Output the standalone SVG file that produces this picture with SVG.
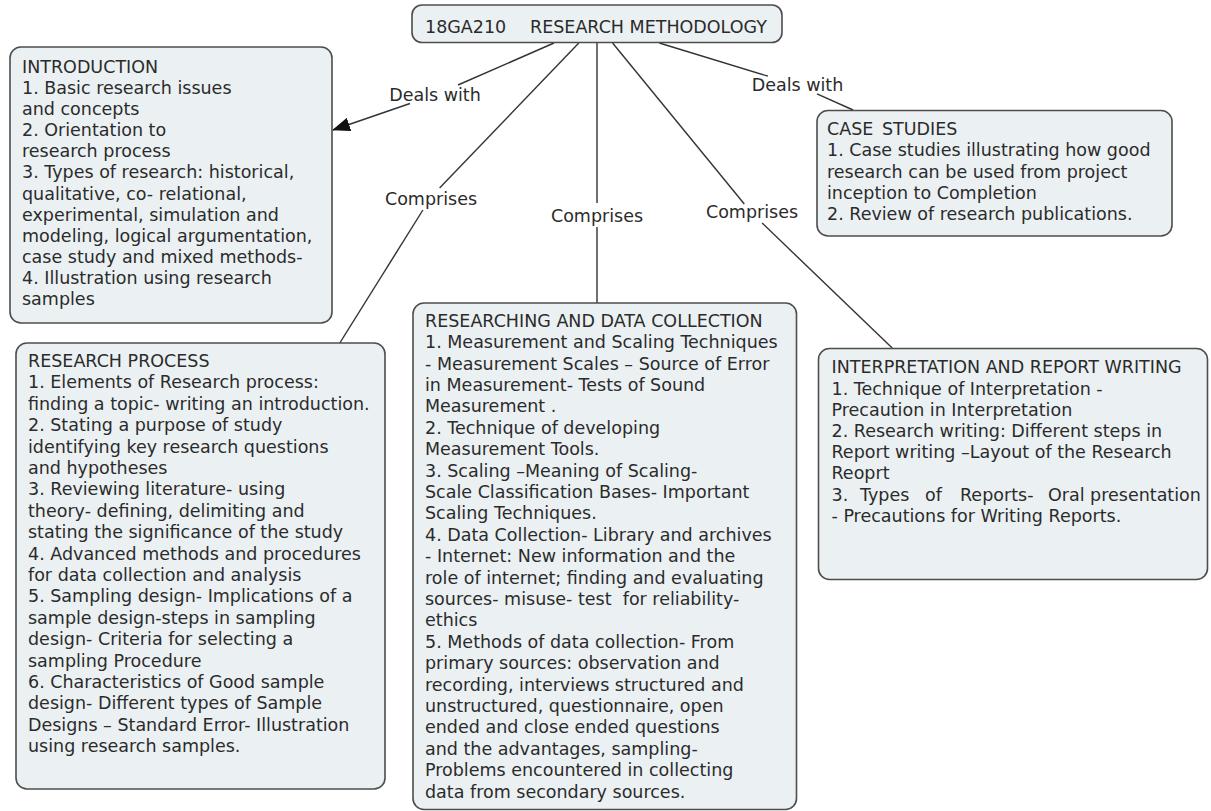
<svg xmlns="http://www.w3.org/2000/svg" width="1211" height="811" viewBox="0 0 1211 811">
<style>
.box{fill:#ebf1f3;stroke:#4d4d4d;stroke-width:1.6}
text{font-family:"DejaVu Sans","Verdana",sans-serif;font-size:17.5px;fill:#2b2b2b;white-space:pre}
.lbl{text-anchor:middle}
.con{stroke:#333;stroke-width:1.4;fill:none}
</style>
<defs>
<marker id="arr" markerUnits="userSpaceOnUse" markerWidth="18" markerHeight="14" viewBox="0 0 18 14" refX="17" refY="7" orient="auto">
<path d="M0,0 L18,7 L0,14 z" fill="#111"/>
</marker>
</defs>
<rect width="1211" height="811" fill="#fff"/>
<g id="connectors">
<path class="con" d="M554,43 L458,85"/>
<path class="con" d="M410,103.5 L333,130" marker-end="url(#arr)"/>
<path class="con" d="M578.8,43 L439.6,188"/>
<path class="con" d="M422.9,210 L339.8,343"/>
<path class="con" d="M597,43 L597,203"/>
<path class="con" d="M597,227 L597,303"/>
<path class="con" d="M612.6,43 L744.3,204"/>
<path class="con" d="M762.1,223 L892.2,348"/>
<path class="con" d="M659.3,43 L768,76.2"/>
<path class="con" d="M817,93.9 L853.1,110"/>
<text class="lbl" x="435" y="101">Deals with</text>
<text class="lbl" x="431" y="205">Comprises</text>
<text class="lbl" x="597" y="221.5">Comprises</text>
<text class="lbl" x="752" y="218">Comprises</text>
<text class="lbl" x="797.5" y="91">Deals with</text>
</g>
<g id="root">
<rect class="box" x="412" y="5" width="370" height="37.5" rx="10"/>
<text x="425" y="33">18GA210</text>
<text x="530" y="33">RESEARCH METHODOLOGY</text>
</g>
<g id="introduction">
<rect class="box" x="10" y="47" width="322" height="276" rx="11"/>
<text x="22" y="72.7">INTRODUCTION</text>
<text x="22" y="93.85">1. Basic research issues</text>
<text x="22" y="115">and concepts</text>
<text x="22" y="136.15">2. Orientation to</text>
<text x="22" y="157.3">research process</text>
<text x="22" y="178.45">3. Types of research: historical,</text>
<text x="22" y="199.6">qualitative, co- relational,</text>
<text x="22" y="220.75">experimental, simulation and</text>
<text x="22" y="241.9">modeling, logical argumentation,</text>
<text x="22" y="263.05">case study and mixed methods-</text>
<text x="22" y="284.2">4. Illustration using research</text>
<text x="22" y="305.35">samples</text>
</g>
<g id="case-studies">
<rect class="box" x="817" y="110.5" width="355" height="125.5" rx="11"/>
<text x="827" y="135">CASE</text>
<text x="882" y="135">STUDIES</text>
<text x="827" y="156.25">1. Case studies illustrating how good</text>
<text x="827" y="177.5">research can be used from project</text>
<text x="827" y="198.75">inception to Completion</text>
<text x="827" y="220">2. Review of research publications.</text>
</g>
<g id="research-process">
<rect class="box" x="16" y="343" width="369" height="446" rx="11"/>
<text x="28" y="367">RESEARCH PROCESS</text>
<text x="28" y="388.4">1. Elements of Research process:</text>
<text x="28" y="409.8">finding a topic- writing an introduction.</text>
<text x="28" y="431.2">2. Stating a purpose of study</text>
<text x="28" y="452.6">identifying key research questions</text>
<text x="28" y="474">and hypotheses</text>
<text x="28" y="495.4">3. Reviewing literature- using</text>
<text x="28" y="516.8">theory- defining, delimiting and</text>
<text x="28" y="538.2">stating the significance of the study</text>
<text x="28" y="559.6">4. Advanced methods and procedures</text>
<text x="28" y="581">for data collection and analysis</text>
<text x="28" y="602.4">5. Sampling design- Implications of a</text>
<text x="28" y="623.8">sample design-steps in sampling</text>
<text x="28" y="645.2">design- Criteria for selecting a</text>
<text x="28" y="666.6">sampling Procedure</text>
<text x="28" y="688">6. Characteristics of Good sample</text>
<text x="28" y="709.4">design- Different types of Sample</text>
<text x="28" y="730.8">Designs – Standard Error- Illustration</text>
<text x="28" y="752.2">using research samples.</text>
</g>
<g id="data-collection">
<rect class="box" x="413" y="303" width="383.5" height="506.5" rx="11"/>
<text x="425" y="326.7">RESEARCHING AND DATA COLLECTION</text>
<text x="425" y="348.1">1. Measurement and Scaling Techniques</text>
<text x="425" y="369.5">- Measurement Scales – Source of Error</text>
<text x="425" y="390.9">in Measurement- Tests of Sound</text>
<text x="425" y="412.3">Measurement .</text>
<text x="425" y="433.7">2. Technique of developing</text>
<text x="425" y="455.1">Measurement Tools.</text>
<text x="425" y="476.5">3. Scaling –Meaning of Scaling-</text>
<text x="425" y="497.9">Scale Classification Bases- Important</text>
<text x="425" y="519.3">Scaling Techniques.</text>
<text x="425" y="540.7">4. Data Collection- Library and archives</text>
<text x="425" y="562.1">- Internet: New information and the</text>
<text x="425" y="583.5">role of internet; finding and evaluating</text>
<text x="425" y="604.9">sources- misuse- test  for reliability-</text>
<text x="425" y="626.3">ethics</text>
<text x="425" y="647.7">5. Methods of data collection- From</text>
<text x="425" y="669.1">primary sources: observation and</text>
<text x="425" y="690.5">recording, interviews structured and</text>
<text x="425" y="711.9">unstructured, questionnaire, open</text>
<text x="425" y="733.3">ended and close ended questions</text>
<text x="425" y="754.7">and the advantages, sampling-</text>
<text x="425" y="776.1">Problems encountered in collecting</text>
<text x="425" y="797.5">data from secondary sources.</text>
</g>
<g id="interpretation">
<rect class="box" x="818.5" y="348.5" width="389" height="231" rx="11"/>
<text x="831.5" y="373.3">INTERPRETATION AND REPORT WRITING</text>
<text x="831.5" y="394.5">1. Technique of Interpretation -</text>
<text x="831.5" y="415.7">Precaution in Interpretation</text>
<text x="831.5" y="436.9">2. Research writing: Different steps in</text>
<text x="831.5" y="458.1">Report writing –Layout of the Research</text>
<text x="831.5" y="479.3">Reoprt</text>
<text y="500.5"><tspan x="831.5">3.</tspan><tspan x="860">Types</tspan><tspan x="925">of</tspan><tspan x="960">Reports-</tspan><tspan x="1048">Oral presentation</tspan></text>
<text x="831.5" y="521.7">- Precautions for Writing Reports.</text>
</g>
</svg>
